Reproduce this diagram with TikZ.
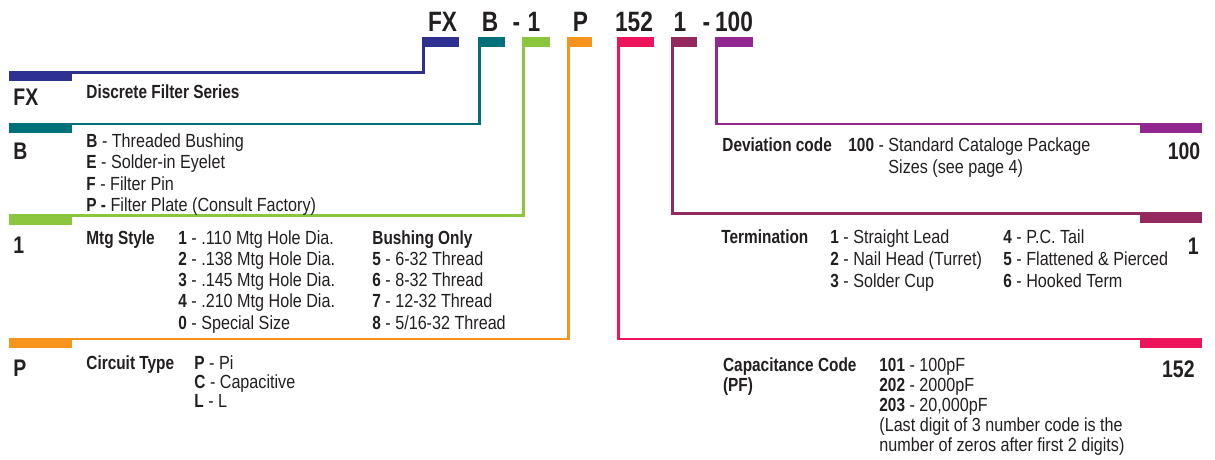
\documentclass[tikz,border=0pt]{standalone}
\usepackage{fontspec}
\setmainfont{Liberation Sans}[FakeStretch=0.85,BoldFeatures={FakeStretch=0.81}]
\usepackage{xcolor}
\definecolor{ink}{HTML}{231F20}
\definecolor{navy1}{HTML}{2E3192}
\definecolor{teal1}{HTML}{00717A}
\definecolor{green1}{HTML}{8CC63F}
\definecolor{orange1}{HTML}{F7941D}
\definecolor{pink1}{HTML}{ED145B}
\definecolor{plum1}{HTML}{93295E}
\definecolor{purple1}{HTML}{92278F}
\usetikzlibrary{positioning}

\begin{document}
\begin{tikzpicture}[
  x=0.5pt,y=-0.5pt,
  tab/.style={rectangle,inner sep=0pt,outer sep=0pt,fill=#1,
              minimum height=5pt,anchor=north west},
  sidetab/.style={rectangle,inner sep=0pt,outer sep=0pt,fill=#1,
                  minimum width=31.2pt,minimum height=5.25pt,anchor=north west},
  link/.style={draw=#1,line width=1.3pt},
  code/.style={font=\bfseries\fontsize{14}{16}\selectfont,text=ink,
               inner sep=0pt,anchor=base},
  big/.style={font=\bfseries\fontsize{12}{14}\selectfont,text=ink,
              inner sep=0pt,anchor=base west},
  head/.style={font=\bfseries\fontsize{9.5}{11}\selectfont,text=ink,
               inner sep=0pt,anchor=base west},
  items/.style={font=\fontsize{9.5}{#1}\selectfont,text=ink,align=left,
                inner sep=0pt,anchor=base west},
]
  \useasboundingbox (0,0) rectangle (1215,460);

  % part number
  \node[code] (cFX)  at (442.5,31.7) {FX};
  \node[code] (cB)   at (490,31.7)   {B};
  \node[code] (cd1)  at (516.5,31.7) {-};
  \node[code] (c1)   at (534,31.7)   {1};
  \node[code] (cP)   at (580.5,31.7) {P};
  \node[code] (c152) at (634,31.7)   {152};
  \node[code] (cT)   at (680,31.7)   {1};
  \node[code] (cd2)  at (706.5,31.7) {-};
  \node[code] (c100) at (734,31.7)   {100};

  % tabs under the part number
  \node[tab=navy1,minimum width=18.5pt]   (tFX)  at (422.4,37.3) {};
  \node[tab=teal1,minimum width=13.3pt]   (tB)   at (478.4,37.3) {};
  \node[tab=green1,minimum width=13.8pt]  (t1)   at (522.2,37.3) {};
  \node[tab=orange1,minimum width=12.3pt] (tP)   at (567.2,37.3) {};
  \node[tab=pink1,minimum width=18.5pt]   (t152) at (617.4,37.3) {};
  \node[tab=plum1,minimum width=12.8pt]   (tT)   at (671.2,37.3) {};
  \node[tab=purple1,minimum width=19pt]   (t100) at (715.1,37.3) {};

  % tabs at the line ends
  \node[sidetab=navy1]   (sFX)  at (9.3,71)      {};
  \node[sidetab=teal1]   (sB)   at (9.3,122.7)   {};
  \node[sidetab=green1]  (s1)   at (9.3,214)     {};
  \node[sidetab=orange1] (sP)   at (9.3,337.7)   {};
  \node[sidetab=pink1]   (s152) at (1140,337.7)  {};
  \node[sidetab=plum1]   (sT)   at (1140,212.4)  {};
  \node[sidetab=purple1] (s100) at (1140,122.7)  {};

  \draw[link=navy1]   ([xshift=0.65pt]tFX.south west)  |- ([yshift=-0.65pt]sFX.north west);
  \draw[link=teal1]   ([xshift=0.65pt]tB.south west)   |- ([yshift=-0.65pt]sB.north west);
  \draw[link=green1]  ([xshift=0.65pt]t1.south west)   |- ([yshift=-0.65pt]s1.north west);
  \draw[link=orange1] ([xshift=0.65pt]tP.south west)   |- ([yshift=-0.65pt]sP.north west);
  \draw[link=pink1]   ([xshift=0.65pt]t152.south west) |- ([yshift=-0.65pt]s152.north east);
  \draw[link=plum1]   ([xshift=0.65pt]tT.south west)   |- ([yshift=-0.65pt]sT.north east);
  \draw[link=purple1] ([xshift=0.65pt]t100.south west) |- ([yshift=-0.65pt]s100.north east);

  % left column (multi-line nodes sit on their last line)
  \node[big]  (kFX) at (13,105)  {FX};
  \node[head] (hFX) at (86,98.3) {Discrete Filter Series};

  \node[big] (kB) at (13,159.3) {B};
  \node[items=10.75pt] (iB) at (86,211.8)
    {\textbf{B} - Threaded Bushing\\\textbf{E} - Solder-in Eyelet\\
     \textbf{F} - Filter Pin\\\textbf{P -} Filter Plate (Consult Factory)};

  \node[big]  (k1) at (13,253.3) {1};
  \node[head] (h1) at (86,244)   {Mtg Style};
  \node[items=10.65pt] (i1a) at (178,329.2)
    {\textbf{1} - .110 Mtg Hole Dia.\\\textbf{2} - .138 Mtg Hole Dia.\\
     \textbf{3} - .145 Mtg Hole Dia.\\\textbf{4} - .210 Mtg Hole Dia.\\
     \textbf{0} - Special Size};
  \node[items=10.65pt] (i1b) at (372,329.2)
    {\textbf{Bushing Only}\\\textbf{5} - 6-32 Thread\\\textbf{6} - 8-32 Thread\\
     \textbf{7} - 12-32 Thread\\\textbf{8} - 5/16-32 Thread};

  \node[big]  (kP) at (13,376.7) {P};
  \node[head] (hP) at (86,369.3) {Circuit Type};
  \node[items=9.5pt] (iP) at (194,407.3)
    {\textbf{P} - Pi\\\textbf{C} - Capacitive\\\textbf{L} - L};

  % right column
  \node[head] (h100) at (722,151.5) {Deviation code};
  \node[items=10.75pt] (i100) at (848,173)
    {\textbf{100} - Standard Cataloge Package\\\phantom{\textbf{100} - }Sizes (see page 4)};
  \node[big,anchor=base east] (k100) at (1200.7,160) {100};

  \node[head] (hT) at (721,243.5) {Termination};
  \node[items=11pt] (iTa) at (830,287.5)
    {\textbf{1} - Straight Lead\\\textbf{2} - Nail Head (Turret)\\\textbf{3} - Solder Cup};
  \node[items=11pt] (iTb) at (1003,287.5)
    {\textbf{4} - P.C. Tail\\\textbf{5} - Flattened \& Pierced\\\textbf{6} - Hooked Term};
  \node[big,anchor=base east] (kT) at (1199,254) {1};

  \node[items=10pt] (h152) at (722.7,391.7) {\textbf{Capacitance Code}\\\textbf{(PF)}};
  \node[items=10.1pt] (i152) at (879,451.8)
    {\textbf{101} - 100pF\\\textbf{202} - 2000pF\\\textbf{203} - 20,000pF\\
     (Last digit of 3 number code is the\\number of zeros after first 2 digits)};
  \node[big,anchor=base east] (k152) at (1195,377) {152};
\end{tikzpicture}
\end{document}
